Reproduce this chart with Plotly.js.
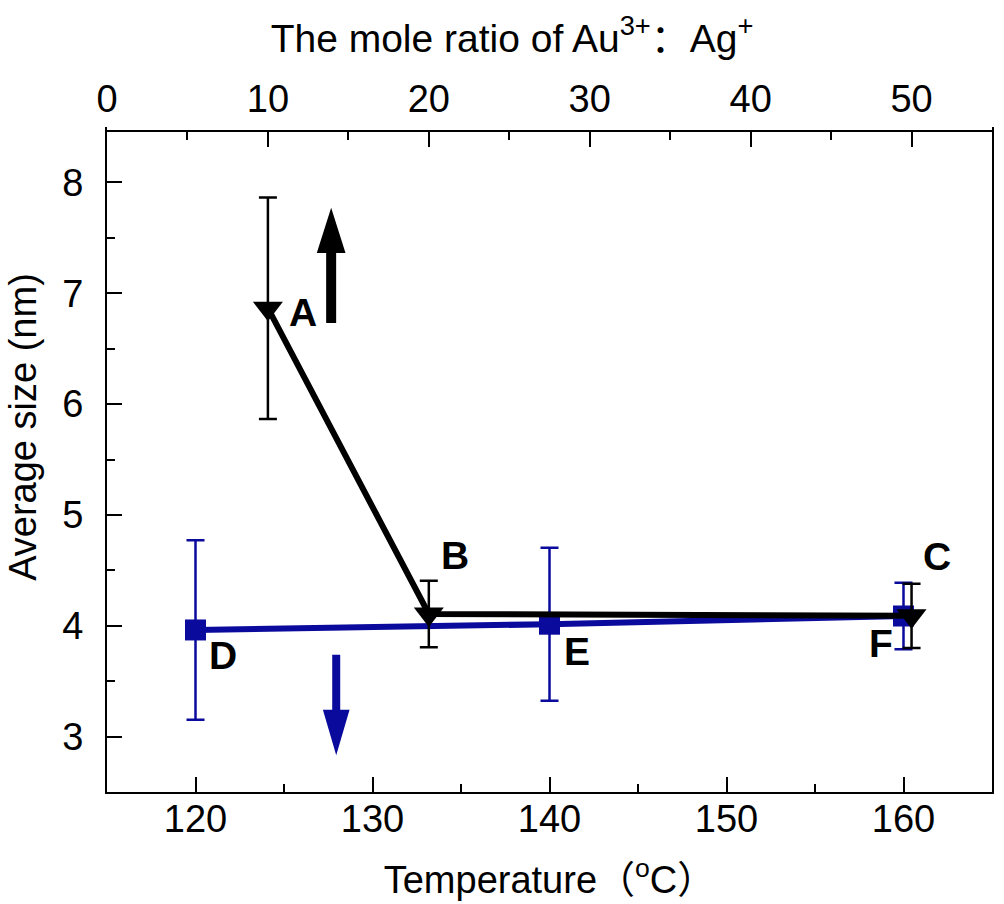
<!DOCTYPE html>
<html>
<head>
<meta charset="utf-8">
<script src="https://cdn.plot.ly/plotly-3.0.1.min.js"></script>
<style>html,body{margin:0;padding:0;background:#fff;}</style>
</head>
<body>
<div id="chart" style="width:1004px;height:904px;"></div>
<script>
// Series 1: size vs mole ratio Au3+:Ag+ (top axis)
const ratio = [10, 20, 50];
const sizeRatio = [6.865, 4.106, 4.090];
const errRatio = [1.0, 0.30, 0.29];
const labelsRatio = ['A', 'B', 'C'];

// Series 2: size vs temperature (bottom axis)
const temp = [120, 140, 160];
const sizeTemp = [3.962, 4.014, 4.088];
const errTemp = [0.81, 0.69, 0.30];
const labelsTemp = ['D', 'E', 'F'];

// Tick values
const tempTicks = [120, 130, 140, 150, 160];
const ratioTicks = [0, 10, 20, 30, 40, 50];
const sizeTicks = [3, 4, 5, 6, 7, 8];

const FONT = 'Arial, "Liberation Sans", "Noto Sans CJK SC", sans-serif';
const BLUE = '#0a0a9c';

const traceRatio = {
  type: 'scatter', mode: 'lines+markers',
  x: ratio, y: sizeRatio, xaxis: 'x2', yaxis: 'y',
  line: {color: '#000', width: 6},
  marker: {symbol: 'triangle-down', size: 26, color: '#000'},
  error_y: {type: 'data', array: errRatio, visible: true, color: '#000', thickness: 2.5, width: 9},
  hoverinfo: 'x+y'
};
const traceTemp = {
  type: 'scatter', mode: 'lines+markers',
  x: temp, y: sizeTemp, xaxis: 'x', yaxis: 'y',
  line: {color: BLUE, width: 6},
  marker: {symbol: 'square', size: 21, color: BLUE},
  error_y: {type: 'data', array: errTemp, visible: true, color: BLUE, thickness: 2.5, width: 9},
  hoverinfo: 'x+y'
};

const labelFont = {family: FONT, size: 39, color: '#000', weight: 'bold'};
const ratioShift = [[35, -4], [26, 59], [25, 59]];
const tempShift = [[27, -26], [27, -27], [-23, -27]];
const annotations = [];
labelsRatio.forEach((t, i) => annotations.push({
  xref: 'x2', yref: 'y', x: ratio[i], y: sizeRatio[i], text: '<b>' + t + '</b>',
  showarrow: false, xshift: ratioShift[i][0], yshift: ratioShift[i][1], font: labelFont
}));
labelsTemp.forEach((t, i) => annotations.push({
  xref: 'x', yref: 'y', x: temp[i], y: sizeTemp[i], text: '<b>' + t + '</b>',
  showarrow: false, xshift: tempShift[i][0], yshift: tempShift[i][1], font: labelFont
}));
annotations.push({
  xref: 'paper', yref: 'paper', x: -0.095, y: 0.549, xanchor: 'center', yanchor: 'middle',
  text: 'Average size (nm)', textangle: -90, showarrow: false,
  font: {family: FONT, size: 38, color: '#000'}
});

const shapes = [
  { // black up arrow (ratio increasing)
    type: 'path', xref: 'x2', yref: 'y', xsizemode: 'pixel', ysizemode: 'pixel',
    xanchor: 13.93, yanchor: 7.742,
    path: 'M0,0 L13,-41 L4,-41 L4,-111 L-4,-111 L-4,-41 L-13,-41 Z',
    fillcolor: '#000', line: {color: '#000', width: 2}
  },
  { // blue down arrow (temperature)
    type: 'path', xref: 'x', yref: 'y', xsizemode: 'pixel', ysizemode: 'pixel',
    xanchor: 127.95, yanchor: 2.863,
    path: 'M0,0 L12,41 L3,41 L3,96 L-3,96 L-3,41 L-12,41 Z',
    fillcolor: BLUE, line: {color: BLUE, width: 2}
  }
];

const axisCommon = {
  ticks: 'inside', ticklen: 15, tickwidth: 2, tickcolor: '#000',
  showline: true, linewidth: 2, linecolor: '#000',
  showgrid: false, zeroline: false,
  tickfont: {family: FONT, size: 38, color: '#000'}
};

const layout = {
  width: 1004, height: 904,
  margin: {l: 107, r: 12, t: 127, b: 112},
  paper_bgcolor: '#fff', plot_bgcolor: '#fff',
  showlegend: false,
  font: {family: FONT, color: '#000'},
  title: {
    text: 'The mole ratio of Au<sup>3+</sup>：Ag<sup>+</sup>',
    x: 0.51, xanchor: 'center', xref: 'container',
    y: 0.958, yanchor: 'middle', yref: 'container',
    font: {family: FONT, size: 39, color: '#000'}
  },
  xaxis: Object.assign({}, axisCommon, {
    range: [115, 165], tickmode: 'array', tickvals: tempTicks,
    minor: {ticks: 'inside', ticklen: 8, tickwidth: 2, tickcolor: '#000', dtick: 5, tick0: 115, showgrid: false},
    ticklabelstandoff: -8,
    title: {text: 'Temperature（<sup>o</sup>C）', font: {family: FONT, size: 38, color: '#000'}, standoff: 28}
  }),
  xaxis2: Object.assign({}, axisCommon, {
    overlaying: 'x', side: 'top', anchor: 'free', position: 0.994,
    range: [0, 55], tickmode: 'array', tickvals: ratioTicks,
    minor: {ticks: 'inside', ticklen: 8, tickwidth: 2, tickcolor: '#000', dtick: 5, tick0: 0, showgrid: false},
    ticklabelstandoff: 3
  }),
  yaxis: Object.assign({}, axisCommon, {
    range: [2.5, 8.5], tickmode: 'array', tickvals: sizeTicks, mirror: true,
    minor: {ticks: 'inside', ticklen: 8, tickwidth: 2, tickcolor: '#000', dtick: 0.5, tick0: 2.5, showgrid: false},
    ticklabelstandoff: 14
  }),
  annotations: annotations,
  shapes: shapes
};

Plotly.newPlot('chart', [traceRatio, traceTemp], layout, {displayModeBar: false, staticPlot: true});
</script>
</body>
</html>
